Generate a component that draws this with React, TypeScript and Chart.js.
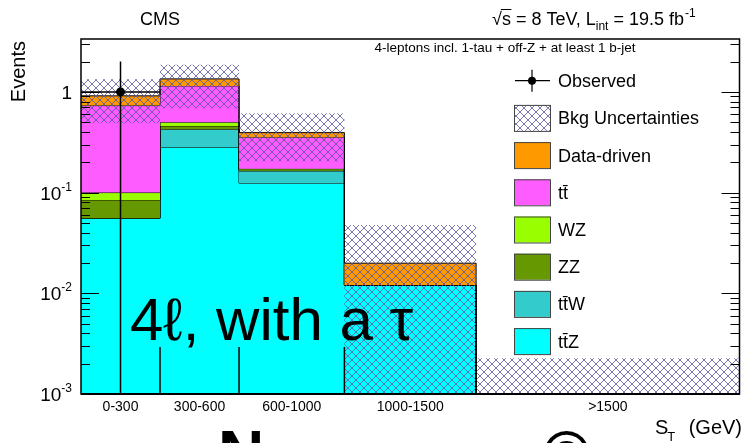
import React, { useEffect, useRef } from 'react';
import { Chart, registerables } from 'chart.js';

Chart.register(...registerables);

// ---------------- data ----------------
const BIN_EDGES = [0, 300, 600, 1000, 1500, 2500];
const BIN_LABELS = ['0-300', '300-600', '600-1000', '1000-1500', '>1500'];

const TTZ = [0.0556, 0.282, 0.124, 0.0121, 0];
const TTW = [0, 0.144, 0.04, 0, 0];
const ZZ = [0.029, 0.033, 0.005, 0, 0];
const WZ = [0.0154, 0.041, 0.003, 0, 0];
const TTBAR = [0.631, 0.647, 0.183, 0, 0];
const DATA_DRIVEN = [0.182, 0.199, 0.039, 0.0078, 0];

const BKG_UNC_LOW = [0.489, 0.689, 0.203, 0, 0];
const BKG_UNC_HIGH = [1.337, 1.855, 0.614, 0.0477, 0.00226];

const OBSERVED = [1, 0, 0, 0, 0];
const OBS_ERR_UP = [1, 0, 0, 0, 0];
const OBS_ERR_DOWN = [1, 0, 0, 0, 0];

const Y_MIN = 0.001;
const Y_MAX = 3.35;
const Y_TICKS = [0.001, 0.01, 0.1, 1];
const Y_TICK_BASES = ['10', '10', '10', '1'];
const Y_TICK_EXPS = ['-3', '-2', '-1', ''];

const LEGEND_LABELS = ['Observed', 'Bkg Uncertainties', 'Data-driven', 'tt\u0304', 'WZ', 'ZZ', 'tt\u0304W', 'tt\u0304Z'];

// ---------------- styles ----------------
const C_TTZ = '#00ffff';
const C_TTW = '#33cccc';
const C_ZZ = '#669900';
const C_WZ = '#99ff00';
const C_TTBAR = '#ff5cff';
const C_DD = '#ff9900';
const HATCH_COLOR = 'rgba(85,85,160,0.8)';
const FONT = '"Liberation Sans", Arial, Helvetica, sans-serif';
const F = (px: number, w = '') => `${w} ${px}px ${FONT}`.trim();

function makeHatch(): CanvasPattern | string {
  const c = document.createElement('canvas');
  c.width = 8;
  c.height = 8;
  const g = c.getContext('2d');
  if (!g) return HATCH_COLOR;
  g.strokeStyle = HATCH_COLOR;
  g.lineWidth = 1;
  g.beginPath();
  g.moveTo(-1, -1);
  g.lineTo(9, 9);
  g.moveTo(-1, 9);
  g.lineTo(9, -1);
  g.stroke();
  return g.createPattern(c, 'repeat') || HATCH_COLOR;
}

function histPoints(vals: number[]) {
  const pts = vals.map((v, i) => ({ x: BIN_EDGES[i], y: v > 0 ? v : Y_MIN }));
  pts.push({ x: BIN_EDGES[BIN_EDGES.length - 1], y: pts[pts.length - 1].y });
  return pts;
}

export default function App() {
  const ref = useRef<HTMLCanvasElement | null>(null);

  useEffect(() => {
    const canvas = ref.current;
    if (!canvas) return;
    const hatch = makeHatch();

    const layers = [
      { label: 'tt\u0304Z', values: TTZ, color: C_TTZ },
      { label: 'tt\u0304W', values: TTW, color: C_TTW },
      { label: 'ZZ', values: ZZ, color: C_ZZ },
      { label: 'WZ', values: WZ, color: C_WZ },
      { label: 'tt\u0304', values: TTBAR, color: C_TTBAR },
      { label: 'Data-driven', values: DATA_DRIVEN, color: C_DD },
    ];
    const cum = BIN_LABELS.map(() => 0);
    const datasets: any[] = layers.map((l, k) => {
      const vals = l.values.map((v, i) => (cum[i] += v));
      return {
        label: l.label,
        data: histPoints(vals),
        stepped: true,
        borderColor: '#000',
        borderWidth: 1,
        backgroundColor: l.color,
        fill: k === 0 ? 'start' : k - 1,
        pointRadius: 0,
        order: 20 - k,
      };
    });
    const lowIdx = datasets.length;
    datasets.push({
      label: 'unc-low',
      data: histPoints(BKG_UNC_LOW),
      stepped: true,
      borderWidth: 0,
      borderColor: 'rgba(0,0,0,0)',
      fill: false,
      pointRadius: 0,
      order: 5,
    });
    datasets.push({
      label: 'Bkg Uncertainties',
      data: histPoints(BKG_UNC_HIGH),
      stepped: true,
      borderWidth: 0,
      borderColor: 'rgba(0,0,0,0)',
      backgroundColor: hatch,
      fill: lowIdx,
      pointRadius: 0,
      order: 4,
    });
    // observed error bars
    const vErr: any[] = [];
    const hErr: any[] = [];
    const obsPts: any[] = [];
    OBSERVED.forEach((v, i) => {
      if (v <= 0) return;
      const cx = (BIN_EDGES[i] + BIN_EDGES[i + 1]) / 2;
      const lo = v - OBS_ERR_DOWN[i];
      vErr.push({ x: cx, y: v + OBS_ERR_UP[i] }, { x: cx, y: lo > 0 ? lo : Y_MIN / 10 }, { x: cx, y: null });
      hErr.push({ x: BIN_EDGES[i], y: v }, { x: BIN_EDGES[i + 1], y: v }, { x: BIN_EDGES[i + 1], y: null });
      obsPts.push({ x: cx, y: v });
    });
    datasets.push({ label: 'obs-v', data: vErr, borderColor: '#000', borderWidth: 1.5, pointRadius: 0, fill: false, spanGaps: false, order: 1 });
    datasets.push({ label: 'obs-h', data: hErr, borderColor: '#000', borderWidth: 1.5, pointRadius: 0, fill: false, spanGaps: false, order: 1 });
    datasets.push({
      label: 'Observed',
      data: obsPts,
      showLine: false,
      pointRadius: 4.5,
      pointBackgroundColor: '#000',
      pointBorderColor: '#000',
      pointBorderWidth: 0,
      fill: false,
      order: 0,
    });

    const decor = {
      id: 'decor',
      afterDatasetsDraw(chart: any) {
        const { ctx, chartArea: a } = chart;
        const xs = chart.scales.x;
        const ys = chart.scales.y;
        ctx.save();
        ctx.fillStyle = '#000';
        ctx.strokeStyle = '#000';

        // frame
        ctx.lineWidth = 1.5;
        ctx.strokeRect(a.left, a.top, a.right - a.left, a.bottom - a.top);
        ctx.lineWidth = 2;
        ctx.beginPath();
        ctx.moveTo(a.left, a.bottom);
        ctx.lineTo(a.right, a.bottom);
        ctx.stroke();

        // y ticks (inside, both sides)
        ctx.lineWidth = 1.2;
        ctx.beginPath();
        for (let d = -3; d <= 0; d++) {
          for (let k = 1; k <= 9; k++) {
            const v = k * Math.pow(10, d);
            if (v > Y_MAX) break;
            const py = Math.round(ys.getPixelForValue(v)) + 0.5;
            const len = k === 1 ? 18 : 9;
            ctx.moveTo(a.left, py);
            ctx.lineTo(a.left + len, py);
            ctx.moveTo(a.right, py);
            ctx.lineTo(a.right - len, py);
          }
        }
        ctx.stroke();

        // x ticks at inner bin edges
        ctx.lineWidth = 1.5;
        ctx.beginPath();
        BIN_EDGES.slice(1, -1).forEach((e) => {
          const px = xs.getPixelForValue(e);
          ctx.moveTo(px, a.bottom);
          ctx.lineTo(px, a.bottom - 47);
        });
        ctx.stroke();

        // y labels
        ctx.textAlign = 'left';
        ctx.textBaseline = 'alphabetic';
        Y_TICKS.forEach((v, i) => {
          const py = ys.getPixelForValue(v);
          const base = Y_TICK_BASES[i];
          const ex = Y_TICK_EXPS[i];
          ctx.font = F(19);
          const wb = ctx.measureText(base).width;
          ctx.font = F(12);
          const we = ex ? ctx.measureText(ex).width : 0;
          const right = 72;
          ctx.font = F(19);
          ctx.fillText(base, right - we - wb, py + 7);
          if (ex) {
            ctx.font = F(12);
            ctx.fillText(ex, right - we, py - 2);
          }
        });

        // x labels
        ctx.font = F(14);
        ctx.textAlign = 'center';
        ctx.textBaseline = 'middle';
        BIN_LABELS.forEach((lab, i) => {
          const px = xs.getPixelForValue((BIN_EDGES[i] + BIN_EDGES[i + 1]) / 2);
          ctx.fillText(lab, px, 407);
        });

        // axis titles
        ctx.textBaseline = 'alphabetic';
        ctx.textAlign = 'right';
        ctx.save();
        ctx.translate(25, 41);
        ctx.rotate(-Math.PI / 2);
        ctx.font = F(20);
        ctx.fillText('Events', 0, 0);
        ctx.restore();

        ctx.textAlign = 'left';
        ctx.font = F(20);
        let tx = 655;
        ctx.fillText('S', tx, 434);
        tx += ctx.measureText('S').width;
        ctx.font = F(13);
        ctx.fillText('T', tx - 1, 441);
        ctx.font = F(20);
        ctx.textAlign = 'right';
        ctx.fillText('(GeV)', 742, 434);

        // header
        ctx.textAlign = 'left';
        ctx.font = F(18);
        ctx.fillText('CMS', 140, 25);
        let hx = 492;
        const hb = 25;
        ctx.fillText('\u221A', hx, hb);
        const wr = ctx.measureText('\u221A').width;
        ctx.fillText('s', hx + wr, hb);
        const wsx = ctx.measureText('s').width;
        ctx.lineWidth = 1;
        ctx.beginPath();
        ctx.moveTo(hx + wr - 1, hb - 15.5);
        ctx.lineTo(hx + wr + wsx + 0.5, hb - 15.5);
        ctx.stroke();
        hx += wr + wsx;
        let s = ' = 8 TeV, L';
        ctx.fillText(s, hx, hb);
        hx += ctx.measureText(s).width;
        ctx.font = F(12);
        ctx.fillText('int', hx, hb + 5);
        hx += ctx.measureText('int').width;
        ctx.font = F(18);
        s = ' = 19.5 fb';
        ctx.fillText(s, hx, hb);
        hx += ctx.measureText(s).width;
        ctx.font = F(12);
        ctx.fillText('-1', hx + 1, hb - 8);

        // subtitle
        ctx.font = F(13.5);
        ctx.textAlign = 'center';
        ctx.fillText('4-leptons incl. 1-tau + off-Z + at least 1 b-jet', 505, 52);

        // legend
        const bx = 514;
        const bw = 36;
        const bh = 26;
        const tx0 = 558;
        const legendFills = ['obs', hatch, C_DD, C_TTBAR, C_WZ, C_ZZ, C_TTW, C_TTZ];
        LEGEND_LABELS.forEach((lab, i) => {
          const cy = 80.7 + 37.2 * i;
          if (i === 0) {
            ctx.lineWidth = 1.2;
            ctx.beginPath();
            ctx.moveTo(bx + 1, cy);
            ctx.lineTo(bx + bw, cy);
            ctx.moveTo(bx + bw / 2, cy - 11);
            ctx.lineTo(bx + bw / 2, cy + 11);
            ctx.stroke();
            ctx.beginPath();
            ctx.arc(bx + bw / 2, cy, 4, 0, Math.PI * 2);
            ctx.fill();
          } else {
            if (i === 1) {
              ctx.fillStyle = '#fff';
              ctx.fillRect(bx, cy - bh / 2, bw, bh);
            }
            ctx.fillStyle = legendFills[i] as any;
            ctx.fillRect(bx, cy - bh / 2, bw, bh);
            ctx.strokeStyle = '#444';
            ctx.lineWidth = 1;
            ctx.strokeRect(bx + 0.5, cy - bh / 2 + 0.5, bw, bh);
            ctx.strokeStyle = '#000';
            ctx.fillStyle = '#000';
          }
          ctx.font = F(18);
          ctx.textAlign = 'left';
          ctx.fillText(lab, tx0, cy + 6.5);
        });

        // slide overlay text
        ctx.font = F(60);
        ctx.fillText('4\u2113, with a \u03C4', 130, 340);
        ctx.font = F(64, 'bold');
        ctx.fillText('N', 218, 476);
        ctx.fillText('\u00A9', 543, 476);

        ctx.restore();
      },
    };

    const chart = new Chart(canvas, {
      type: 'line',
      data: { datasets },
      options: {
        responsive: false,
        animation: false,
        devicePixelRatio: 1,
        layout: { padding: { left: 81, top: 39, right: 2, bottom: 49 } },
        scales: {
          x: { type: 'linear', min: 0, max: 2500, display: false },
          y: { type: 'logarithmic', min: Y_MIN, max: Y_MAX, display: false },
        },
        plugins: {
          legend: { display: false },
          tooltip: { enabled: false },
        },
        elements: { line: { tension: 0 } },
      } as any,
      plugins: [decor],
    });
    return () => chart.destroy();
  }, []);

  return (
    <div style={{ position: 'fixed', left: 0, top: 0, width: 744, height: 443, background: '#fff' }}>
      <canvas ref={ref} width={744} height={443} style={{ display: 'block', width: 744, height: 443 }} />
    </div>
  );
}
